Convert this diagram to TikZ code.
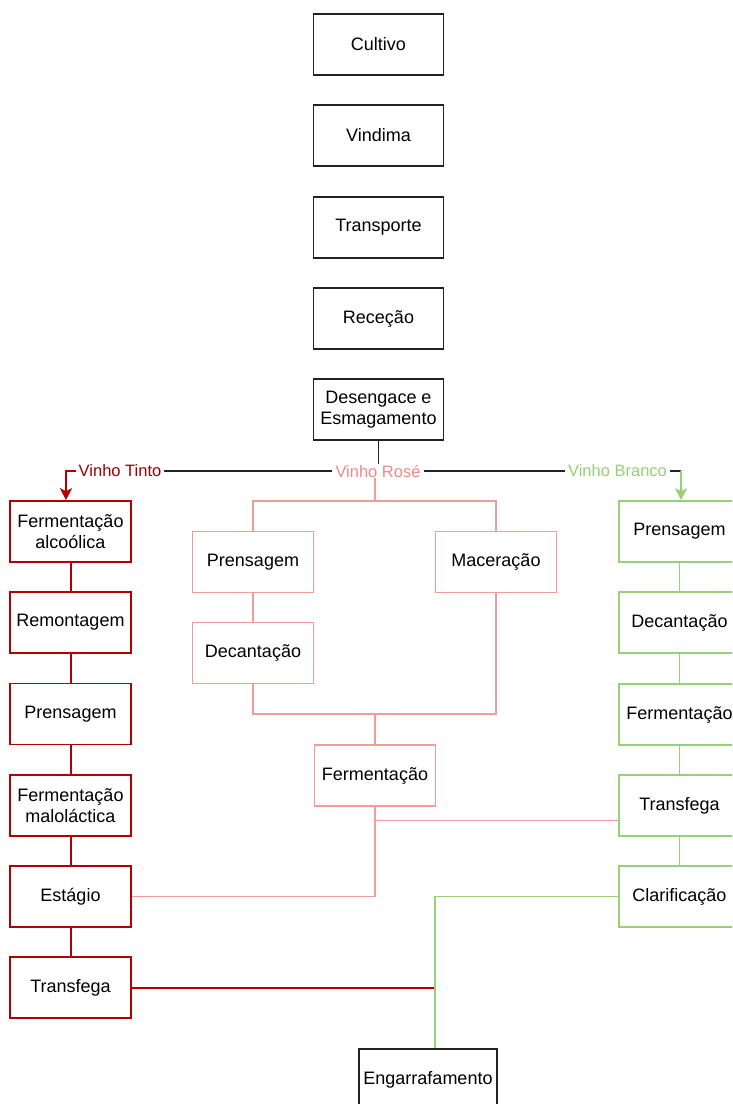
\documentclass[tikz,border=0pt]{standalone}
\usepackage{fontspec}
\setmainfont{Liberation Sans}
\usetikzlibrary{arrows.meta}
\definecolor{tinto}{HTML}{B20000}
\definecolor{tintotxt}{HTML}{990000}
\definecolor{rose}{HTML}{F19C99}
\definecolor{rosetxt}{HTML}{EE8A86}
\definecolor{branco}{HTML}{97D077}
\definecolor{ink}{HTML}{222222}

\begin{document}
\begin{tikzpicture}[x=1pt,y=-1pt,
  stepbox/.style={draw=ink, line width=1.6pt, rectangle, inner sep=0pt,
    minimum height=61pt, minimum width=121pt, align=center,
    font=\fontsize{18}{21.5}\selectfont},
  topbox/.style={stepbox, minimum width=130pt},
  tbox/.style={stepbox, draw=tinto},
  rbox/.style={stepbox, draw=rose},
  bbox/.style={stepbox, draw=branco},
  lbl/.style={fill=white, inner xsep=3pt, inner ysep=1pt,
    font=\fontsize{16.5}{18}\selectfont},
  kline/.style={draw=ink, line width=1.6pt},
  tline/.style={draw=tinto, line width=2pt},
  rline/.style={draw=rose, line width=1.6pt},
  gline/.style={draw=branco, line width=1.6pt},
  tip/.style={-{Stealth[length=12pt,width=12pt,inset=3pt]}}
]
\clip (0,0) rectangle (732,1104);
\fill[white] (0,0) rectangle (732,1104);

% common steps
\node[topbox] (cult)  at (378.5,44.5)  {Cultivo};
\node[topbox] (vind)  at (378.5,135.5) {Vindima};
\node[topbox] (transp) at (378.5,227.5) {Transporte};
\node[topbox] (recep) at (378.5,318.5) {Receção};
\node[topbox] (desen) at (378.5,409.5) {Desengace e\\Esmagamento};

% red wine
\node[tbox] (tferm)   at (70.5,531.5) {Fermentação\\alcoólica};
\node[tbox] (tremont) at (70.5,622.5) {Remontagem};
\node[tbox] (tprens)  at (70.5,714)   {Prensagem};
\node[tbox] (tmalo)   at (70.5,805.5) {Fermentação\\maloláctica};
\node[tbox] (testag)  at (70.5,896.5) {Estágio};
\node[tbox] (ttransf) at (70.5,987.5) {Transfega};

% rosé wine
\node[rbox] (rprens) at (253,562)   {Prensagem};
\node[rbox] (rdec)   at (253,653)   {Decantação};
\node[rbox] (rmac)   at (496,562)   {Maceração};
\node[rbox] (rferm)  at (375,775.5) {Fermentação};

% white wine
\node[bbox] (bprens)  at (679.5,531.5) {Prensagem};
\node[bbox] (bdec)    at (679.5,622.5) {Decantação};
\node[bbox] (bferm)   at (679.5,714.5) {Fermentação};
\node[bbox] (btransf) at (679.5,805.5) {Transfega};
\node[bbox] (bclar)   at (679.5,896.5) {Clarificação};

% bottling
\node[stepbox, minimum width=138pt] (eng) at (428,1079.5) {Engarrafamento};

% branch labels
\node[lbl, text=tintotxt] (vt) at (120,471) {Vinho Tinto};
\node[lbl, text=rosetxt]  (vr) at (378,471) {Vinho Rosé};
\node[lbl, text=branco]   (vb) at (617.5,471) {Vinho Branco};

\coordinate (tk) at (66,471);
\coordinate (bk) at (681,471);
\coordinate (rk) at (375,501);
\coordinate (rj) at (375,714);
\coordinate (rs) at (375,820.5);
\coordinate (gj) at (435,896.5);

% split after destemming
\draw[kline] (desen.south) -- (desen.south |- vr.north);
\draw[kline] (vr.west) -- (vt.east);
\draw[kline] (vr.east) -- (vb.west);
\draw[kline] (vb.east) -- (bk);
\draw[tline, tip] (vt.west) -- (tk) -- (tk |- tferm.north);
\draw[gline, tip] (bk) -- (bk |- bprens.north);

% red wine chain
\draw[tline] (tferm.south) -- (tremont.north);
\draw[tline] (tremont.south) -- (tprens.north);
\draw[tline] (tprens.south) -- (tmalo.north);
\draw[tline] (tmalo.south) -- (testag.north);
\draw[tline] (testag.south) -- (ttransf.north);
\draw[tline] (ttransf.east) -- (ttransf.east -| gj);

% rosé chain
\draw[rline] (rk |- vr.south) -- (rk);
\draw[rline] (rprens.north) -- (rprens.north |- rk) -- (rmac.north |- rk) -- (rmac.north);
\draw[rline] (rprens.south) -- (rdec.north);
\draw[rline] (rdec.south) -- (rdec.south |- rj) -- (rmac.south |- rj) -- (rmac.south);
\draw[rline] (rj) -- (rferm.north);
\draw[rline] (rferm.south) -- (rferm.south |- testag.east) -- (testag.east);
\draw[rline] (rs) -- (rs -| btransf.west);

% white wine chain
\draw[gline] (bprens.south) -- (bdec.north);
\draw[gline] (bdec.south) -- (bferm.north);
\draw[gline] (bferm.south) -- (btransf.north);
\draw[gline] (btransf.south) -- (bclar.north);
\draw[gline] (bclar.west) -- (gj) -- (gj |- eng.north);
\end{tikzpicture}
\end{document}
